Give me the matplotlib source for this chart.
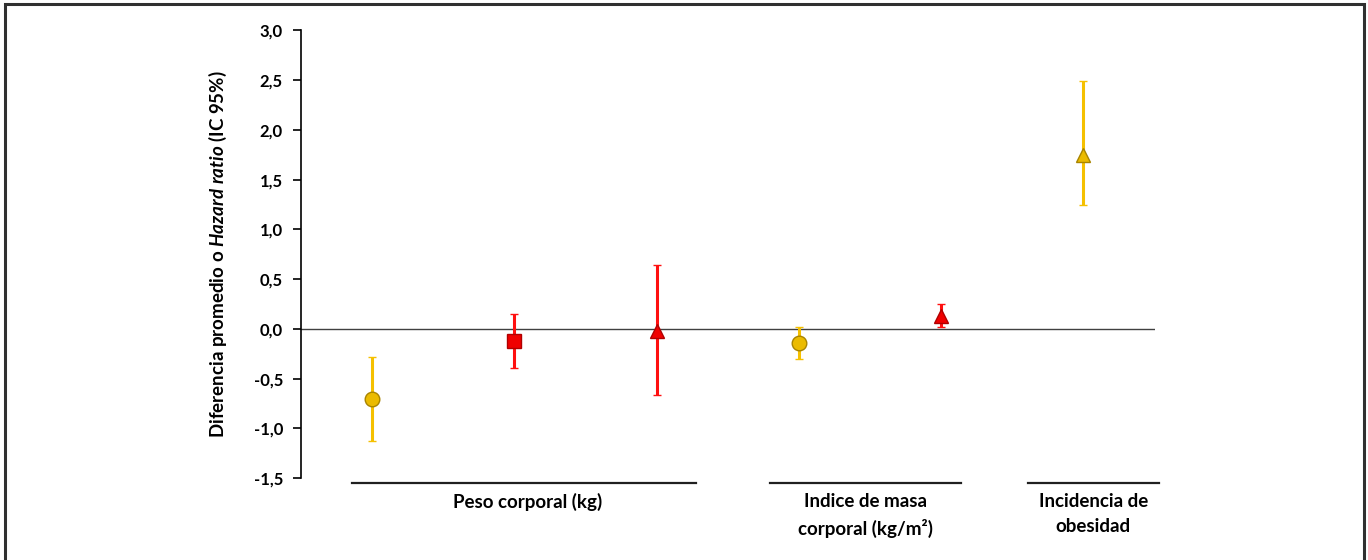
import matplotlib
matplotlib.use("Agg")
import matplotlib.pyplot as plt
import matplotlib.transforms as mtransforms
from matplotlib.ticker import FuncFormatter
from matplotlib.patches import Rectangle

plt.rcParams["font.family"] = ["Lato", "DejaVu Sans"]
plt.rcParams["mathtext.fontset"] = "custom"
plt.rcParams["mathtext.it"] = "Lato:italic:bold"
plt.rcParams["mathtext.rm"] = "Lato:bold"

# Estimates and 95% CI
positions = [1, 2, 3, 4, 5, 6]
estimates = [-0.70, -0.12, -0.02, -0.14, 0.13, 1.75]
ci_low = [-1.13, -0.39, -0.66, -0.30, 0.02, 1.24]
ci_high = [-0.28, 0.15, 0.64, 0.02, 0.25, 2.49]
markers = ["o", "s", "^", "o", "^", "^"]
kinds = ["gold", "red", "red", "gold", "red", "gold"]

group_labels = ["Peso corporal (kg)", "Indice de masa\ncorporal (kg/m²)", "Incidencia de\nobesidad"]
group_spans = [(0.86, 3.28), (3.80, 5.14), (5.61, 6.53)]
group_centers = [2.09, 4.47, 6.07]

yticks = [-1.5, -1.0, -0.5, 0.0, 0.5, 1.0, 1.5, 2.0, 2.5, 3.0]

bar_colors = {"gold": "#F5C000", "red": "#FF1010"}
face_colors = {"gold": "#EBBB00", "red": "#F00000"}
edge_colors = {"gold": "#A88400", "red": "#B00000"}
marker_sizes = {"o": 10.5, "s": 10, "^": 10.5}

fig = plt.figure(figsize=(13.68, 5.6), dpi=100)
ax = fig.add_axes([0.220, 0.146, 0.624, 0.800])

ax.axhline(0, color="#404040", lw=1.0, zorder=1)

for x, y, lo, hi, m, k in zip(positions, estimates, ci_low, ci_high, markers, kinds):
    ax.errorbar(x, y, yerr=[[y - lo], [hi - y]], fmt=m, color=bar_colors[k],
                ecolor=bar_colors[k], elinewidth=2.2, capsize=3, capthick=2.2,
                markersize=marker_sizes[m], markerfacecolor=face_colors[k],
                markeredgecolor=edge_colors[k], markeredgewidth=1.0, zorder=3)

ax.set_xlim(0.5, 6.5)
ax.set_ylim(-1.5, 3.0)
ax.set_yticks(yticks)
ax.yaxis.set_major_formatter(FuncFormatter(lambda v, p: f"{v:.1f}".replace(".", ",")))
ax.tick_params(axis="y", direction="out", length=6, width=1.2, labelsize=12, pad=7)
for lab in ax.get_yticklabels():
    lab.set_fontweight("bold")
ax.set_xticks([])
for side in ["top", "right", "bottom"]:
    ax.spines[side].set_visible(False)
ax.spines["left"].set_linewidth(1.2)

ax.set_ylabel(r"Diferencia promedio o $\mathit{Hazard\ ratio}$ (IC 95%)",
              fontsize=13.5, fontweight="bold", labelpad=18)

trans = mtransforms.blended_transform_factory(ax.transData, ax.transAxes)
for (x0, x1), cx, label in zip(group_spans, group_centers, group_labels):
    ax.plot([x0, x1], [-0.011, -0.011], transform=trans, color="#202020",
            lw=1.6, clip_on=False)
    ax.text(cx, -0.032, label, transform=trans, ha="center", va="top",
            fontsize=13.5, fontweight="bold", linespacing=1.6)

# frame around the whole picture
fig.patches.append(Rectangle((0.004, -0.01), 0.993, 1.003, transform=fig.transFigure,
                             fill=False, edgecolor="#303030", lw=2.2))

fig.savefig("out.png", dpi=100)
